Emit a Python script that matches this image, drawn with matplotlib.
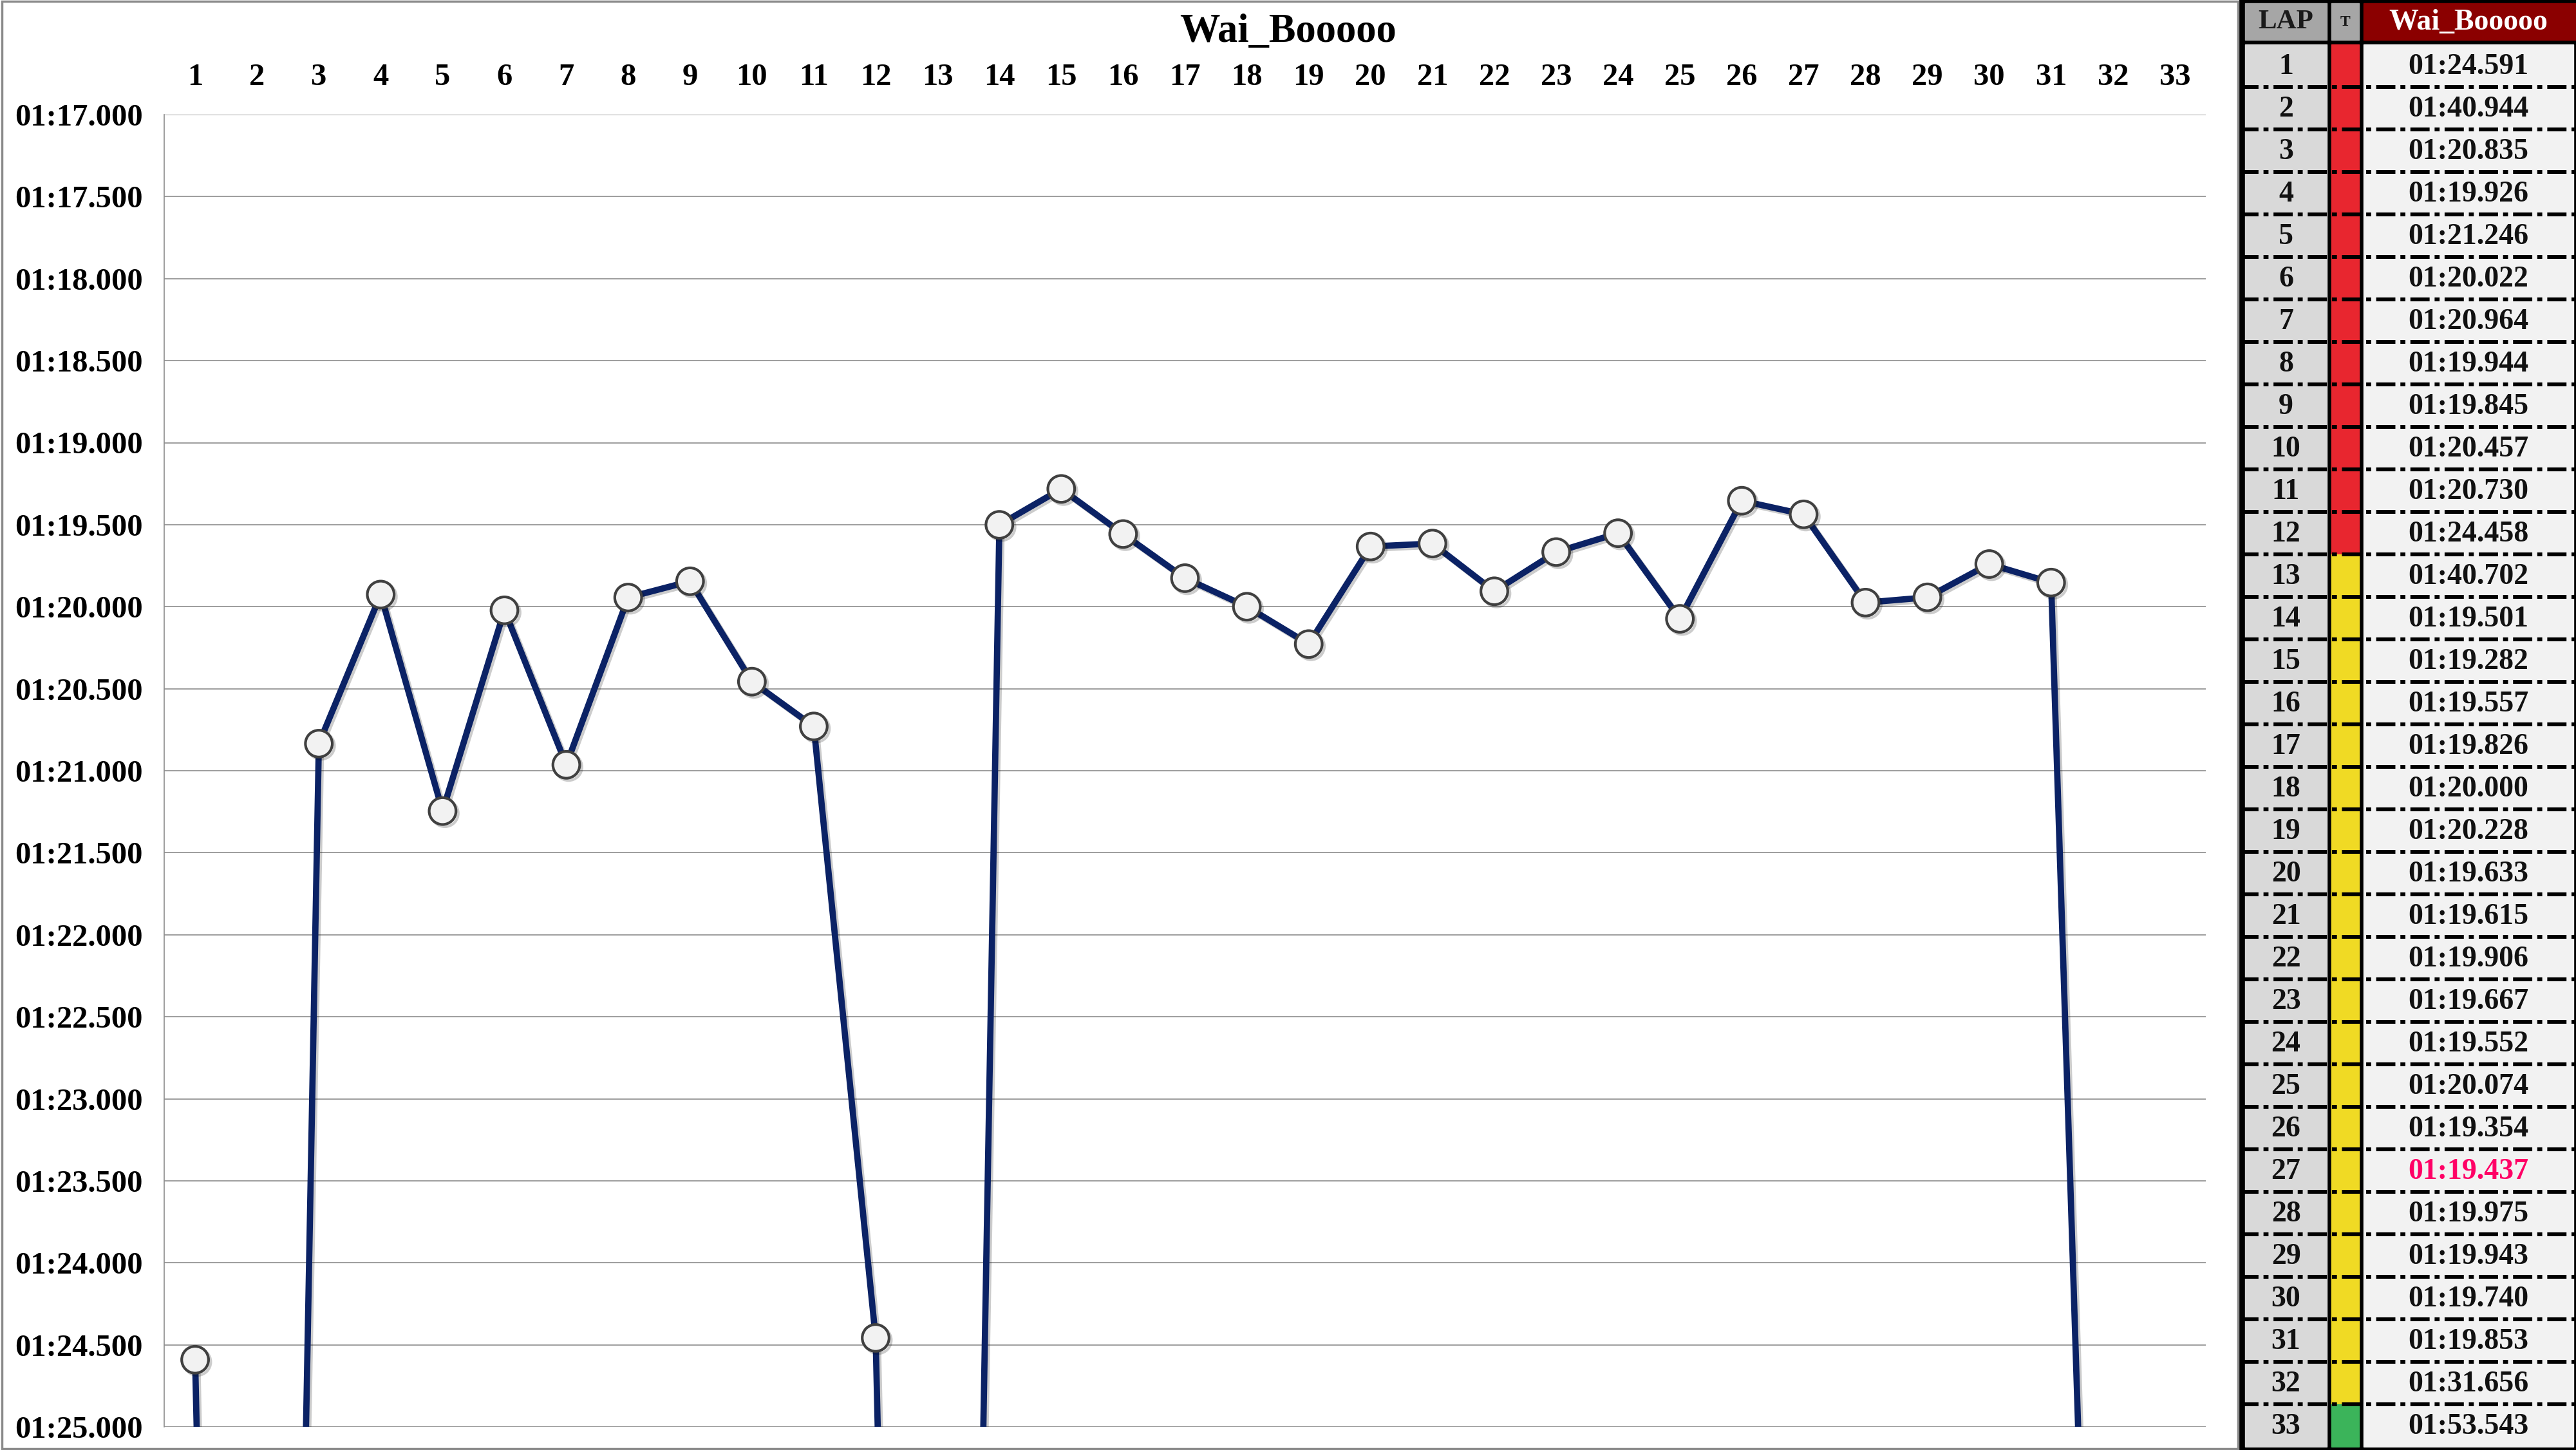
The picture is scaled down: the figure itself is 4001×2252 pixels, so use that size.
import matplotlib
matplotlib.use("Agg")
import matplotlib.pyplot as plt
import matplotlib.patches as mpatches
import matplotlib.patheffects as pe
from matplotlib.ticker import FuncFormatter, MultipleLocator

# --- data ---
driver = "Wai_Booooo"
laps = list(range(1, 34))
lap_times = [
    "01:24.591", "01:40.944", "01:20.835", "01:19.926", "01:21.246",
    "01:20.022", "01:20.964", "01:19.944", "01:19.845", "01:20.457",
    "01:20.730", "01:24.458", "01:40.702", "01:19.501", "01:19.282",
    "01:19.557", "01:19.826", "01:20.000", "01:20.228", "01:19.633",
    "01:19.615", "01:19.906", "01:19.667", "01:19.552", "01:20.074",
    "01:19.354", "01:19.437", "01:19.975", "01:19.943", "01:19.740",
    "01:19.853", "01:31.656", "01:53.543",
]
tyres = [
    "S", "S", "S", "S", "S", "S", "S", "S", "S", "S", "S", "S",
    "M", "M", "M", "M", "M", "M", "M", "M", "M", "M", "M", "M",
    "M", "M", "M", "M", "M", "M", "M", "M",
    "H",
]
highlight_lap = 27

tyre_colors = {"S": "#e8262f", "M": "#f0da24", "H": "#3bb45a"}
FONT = "Liberation Serif"


def to_sec(s):
    m, rest = s.split(":")
    return int(m) * 60 + float(rest)


def fmt_time(v, pos=None):
    m = int(v // 60)
    return f"{m:02d}:{v - m * 60:06.3f}"


secs = [to_sec(t) for t in lap_times]

W, H = 4001, 2252
fig = plt.figure(figsize=(W / 100, H / 100), dpi=100)

# grey frame around the chart part
fig.add_artist(mpatches.Rectangle((0.0008, 0.0008), 3478 / W - 0.0012, 0.9984,
                                  transform=fig.transFigure, fill=False,
                                  edgecolor="#8a8a8a", lw=2.5))

# --- lap chart ---
ax = fig.add_axes([255 / W, 1 - 2216 / H, (3426 - 255) / W, (2216 - 178) / H])
ax.plot(laps, secs, color="#0b2265", lw=7, marker="o", markersize=30,
        markerfacecolor="#f2f2f2", markeredgecolor="#404040", markeredgewidth=3,
        path_effects=[pe.SimpleLineShadow(offset=(2.5, -2.5), shadow_color="k", alpha=0.2),
                      pe.Normal()], zorder=3)

ax.set_xlim(0.5, 33.5)
ax.set_ylim(85.0, 77.0)
ax.yaxis.set_major_locator(MultipleLocator(0.5))
ax.yaxis.set_major_formatter(FuncFormatter(fmt_time))
ax.set_xticks(laps)
ax.xaxis.tick_top()
ax.tick_params(axis="x", length=0, pad=26)
ax.tick_params(axis="y", length=0, pad=24)
for lab in ax.get_xticklabels() + ax.get_yticklabels():
    lab.set_fontfamily(FONT)
    lab.set_fontweight("bold")
    lab.set_fontsize(35)
ax.grid(axis="y", color="#8c8c8c", lw=1.2)
ax.set_axisbelow(True)
for s in ["top", "right", "bottom"]:
    ax.spines[s].set_visible(False)
ax.spines["left"].set_color("#8c8c8c")
ax.spines["left"].set_linewidth(1.2)

fig.text(0.5, 1 - 50 / H, driver, ha="center", va="center", family=FONT,
         fontweight="bold", fontsize=45)

# --- lap table on the right ---
tx0 = 3478
tax = fig.add_axes([tx0 / W, 0, (W - tx0) / W, 1])
tax.set_xlim(0, W - tx0)
tax.set_ylim(H, 0)
tax.axis("off")
tax.add_patch(mpatches.Rectangle((0, 0), W - tx0, H, color="black"))

cols = [(9, 127), (143, 43), (193, 326)]  # x, width of LAP / T / name
head_top, head_h = 5, 57
row_top, row_h = 69, 66

tax.add_patch(mpatches.Rectangle((cols[0][0], head_top), cols[0][1], head_h, color="#a6a6a6"))
tax.add_patch(mpatches.Rectangle((cols[1][0], head_top), cols[1][1], head_h, color="#a6a6a6"))
tax.add_patch(mpatches.Rectangle((cols[2][0], head_top), cols[2][1] + 4, head_h, color="#8b0000"))
hy = head_top + head_h / 2 + 1
tax.text(cols[0][0] + cols[0][1] / 2, hy, "LAP", ha="center", va="center",
         family=FONT, fontweight="bold", fontsize=31, color="#1a1a1a")
tax.text(cols[1][0] + cols[1][1] / 2, hy, "T", ha="center", va="center",
         family=FONT, fontweight="bold", fontsize=17, color="#1a1a1a")
tax.text(cols[2][0] + cols[2][1] / 2, hy, driver, ha="center", va="center",
         family=FONT, fontweight="bold", fontsize=33, color="white")

for i, (lap, t, ty) in enumerate(zip(laps, lap_times, tyres)):
    y = row_top + i * row_h
    tax.add_patch(mpatches.Rectangle((cols[0][0], y), cols[0][1], row_h, color="#d9d9d9"))
    tax.add_patch(mpatches.Rectangle((cols[1][0], y), cols[1][1], row_h, color=tyre_colors[ty]))
    tax.add_patch(mpatches.Rectangle((cols[2][0], y), cols[2][1], row_h, color="#f2f2f2"))
    cy = y + row_h / 2 + 2
    tax.text(cols[0][0] + cols[0][1] / 2, cy, str(lap), ha="center", va="center",
             family=FONT, fontweight="bold", fontsize=33, color="#111111")
    tcol = "#ff0066" if lap == highlight_lap else "#111111"
    tax.text(cols[2][0] + cols[2][1] / 2, cy, t, ha="center", va="center",
             family=FONT, fontweight="bold", fontsize=33, color=tcol)
    if i > 0:
        tax.plot([0, W - tx0], [y, y], color="black", lw=4.3,
                 dashes=(5, 1.3, 1.3, 1.3), solid_capstyle="butt")

fig.savefig("out.png", dpi=100)
